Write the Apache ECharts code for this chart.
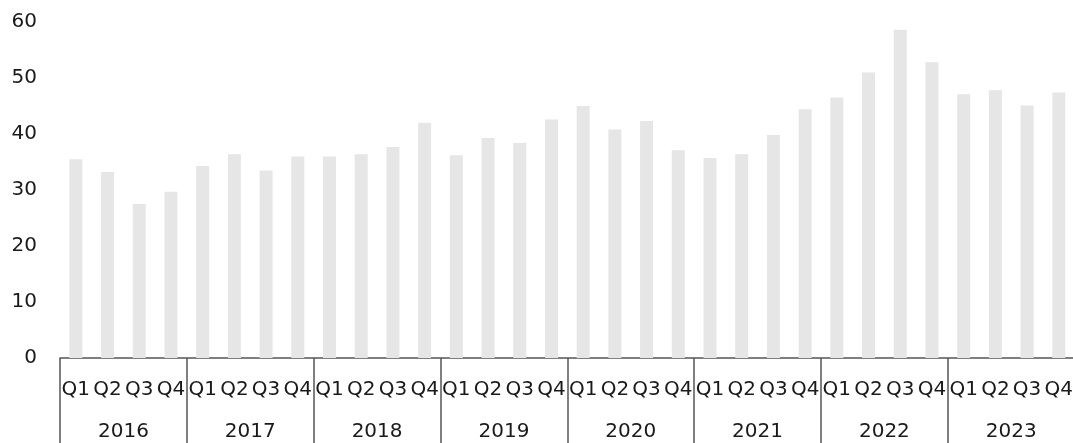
<!DOCTYPE html>
<html>
<head>
<meta charset="utf-8">
<script src="https://cdn.jsdelivr.net/npm/echarts@6/dist/echarts.min.js"></script>
<style>html,body{margin:0;padding:0;background:#fff;overflow:hidden;width:1073px;height:443px;}#c{width:1076px;height:443px;}</style>
</head>
<body>
<div id="c"></div>
<script>
const years = ['2016','2017','2018','2019','2020','2021','2022','2023'];
const quarters = ['Q1','Q2','Q3','Q4'];
const values = [
  35.5, 33.2, 27.5, 29.7,
  34.3, 36.4, 33.5, 36.0,
  36.0, 36.4, 37.7, 42.0,
  36.2, 39.3, 38.4, 42.6,
  45.0, 40.8, 42.3, 37.1,
  35.7, 36.4, 39.8, 44.4,
  46.5, 51.0, 58.6, 52.8,
  47.1, 47.8, 45.1, 47.4
];
const yTicks = {min: 0, max: 60, interval: 10};

const categories = [];
years.forEach(y => quarters.forEach(q => categories.push(y + ' ' + q)));

const font = 'DejaVu Sans';
const chart = echarts.init(document.getElementById('c'));
chart.setOption({
  animation: false,
  grid: {left: 60, right: 0, top: 22, bottom: 85},
  xAxis: [
    {
      type: 'category', data: categories, position: 'bottom',
      axisLine: {show: true, lineStyle: {color: '#555', width: 1.5}},
      axisTick: {show: false},
      axisLabel: {
        interval: 0, margin: 22, fontFamily: font, fontSize: 20, color: '#1a1a1a',
        formatter: v => v.split(' ')[1]
      }
    },
    {
      type: 'category', data: years, position: 'bottom',
      axisLine: {show: false},
      axisTick: {show: true, length: 90, alignWithLabel: false, interval: 0, lineStyle: {color: '#555', width: 1.5}},
      axisLabel: {interval: 0, margin: 64, fontFamily: font, fontSize: 20, color: '#1a1a1a'}
    }
  ],
  yAxis: {
    type: 'value', min: yTicks.min, max: yTicks.max, interval: yTicks.interval,
    axisLine: {show: false}, axisTick: {show: false}, splitLine: {show: false},
    axisLabel: {margin: 23, fontFamily: font, fontSize: 20, color: '#1a1a1a'}
  },
  series: [{
    type: 'bar', xAxisIndex: 0, data: values, barWidth: 13,
    itemStyle: {color: '#e6e6e6'}
  }]
});
</script>
</body>
</html>
